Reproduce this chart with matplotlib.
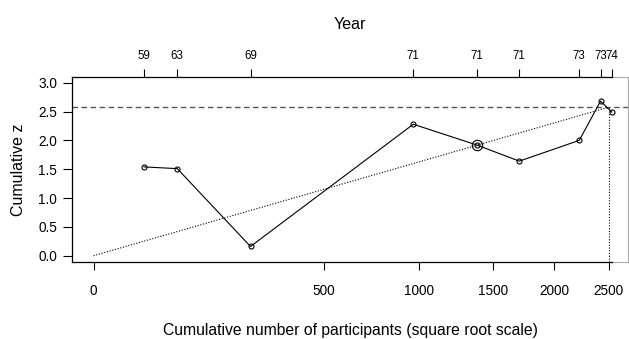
import numpy as np
import matplotlib
matplotlib.use('Agg')
import matplotlib.pyplot as plt

plt.rcParams['font.family'] = ['Liberation Sans', 'DejaVu Sans']

# cumulative meta-analysis: participants, cumulative z, publication year
participants = [24, 66, 232, 963, 1383, 1707, 2222, 2421, 2530]
cum_z = [1.54, 1.51, 0.16, 2.28, 1.92, 1.64, 2.00, 2.68, 2.49]
years = ['59', '63', '69', '71', '71', '71', '73', '73', '74']
highlight = 4  # trial ringed on the plot

z_crit = 2.576
info_size = 2500
x_ticks = [0, 500, 1000, 1500, 2000, 2500]
y_ticks = [0.0, 0.5, 1.0, 1.5, 2.0, 2.5, 3.0]
x_lim = (-4.5, 2694)
y_lim = (-0.11, 3.1)


def fwd(x):
    x = np.asarray(x, dtype=float)
    return np.sign(x) * np.sqrt(np.abs(x))


def inv(x):
    x = np.asarray(x, dtype=float)
    return np.sign(x) * x ** 2


fig = plt.figure(figsize=(6.29, 3.39), dpi=100)
ax = fig.add_axes([0.114, 0.227, 0.885, 0.546])
ax.set_xscale('function', functions=(fwd, inv))
ax.set_xlim(*x_lim)
ax.set_ylim(*y_lim)

# boundary line and required information size
ax.axhline(z_crit, color='#555555', lw=1.0, ls=(0, (4, 2.5)))
ax.plot([info_size, info_size], [y_lim[0], z_crit], color='black', lw=0.8, ls=(0, (1, 1.5)))
xs = np.linspace(0, info_size, 200)
ax.plot(xs, z_crit * np.sqrt(xs / info_size), color='black', lw=0.8, ls=(0, (1, 1.5)))

ax.plot(participants, cum_z, color='black', lw=0.8, marker='o', ms=3.6,
        mfc='none', mec='black', mew=0.8)
ax.plot(participants[highlight], cum_z[highlight], marker='o', ms=7.5,
        mfc='none', mec='black', mew=0.8)

ax.set_xticks(x_ticks)
ax.set_xticklabels([str(t) for t in x_ticks])
ax.set_yticks(y_ticks)
ax.set_yticklabels([f'{t:.1f}' for t in y_ticks])
ax.tick_params(axis='y', direction='out', length=6.5, width=0.8, labelsize=9.8, pad=4)
ax.tick_params(axis='x', direction='out', length=6, width=0.8, labelsize=9.8, pad=10)

# black axis lines stop at the last trial, the rest of the frame is grey
last = participants[-1]
for side in ['left', 'bottom', 'top']:
    ax.spines[side].set_linewidth(0.9)
ax.spines['bottom'].set_bounds(x_lim[0], last)
ax.spines['top'].set_bounds(x_lim[0], last)
ax.spines['right'].set_color('#aaaaaa')
ax.spines['right'].set_linewidth(0.8)
for yy in y_lim:
    ax.plot([last, x_lim[1]], [yy, yy], color='#aaaaaa', lw=0.8, clip_on=False)

ax.set_xlabel('Cumulative number of participants (square root scale)', fontsize=11.3, labelpad=18)
ax.set_ylabel('Cumulative z', fontsize=11.5, labelpad=9)

# year of each trial along the top
top = ax.twiny()
top.set_xscale('function', functions=(fwd, inv))
top.set_xlim(*x_lim)
top.set_xticks(participants)
top.set_xticklabels(years)
top.tick_params(direction='out', length=6, width=0.8, labelsize=8.3, pad=5)
for side in ['right', 'top', 'bottom', 'left']:
    top.spines[side].set_visible(False)
top.set_xlabel('Year', fontsize=11.5, labelpad=15)

fig.savefig('out.png', dpi=100, facecolor='white')
